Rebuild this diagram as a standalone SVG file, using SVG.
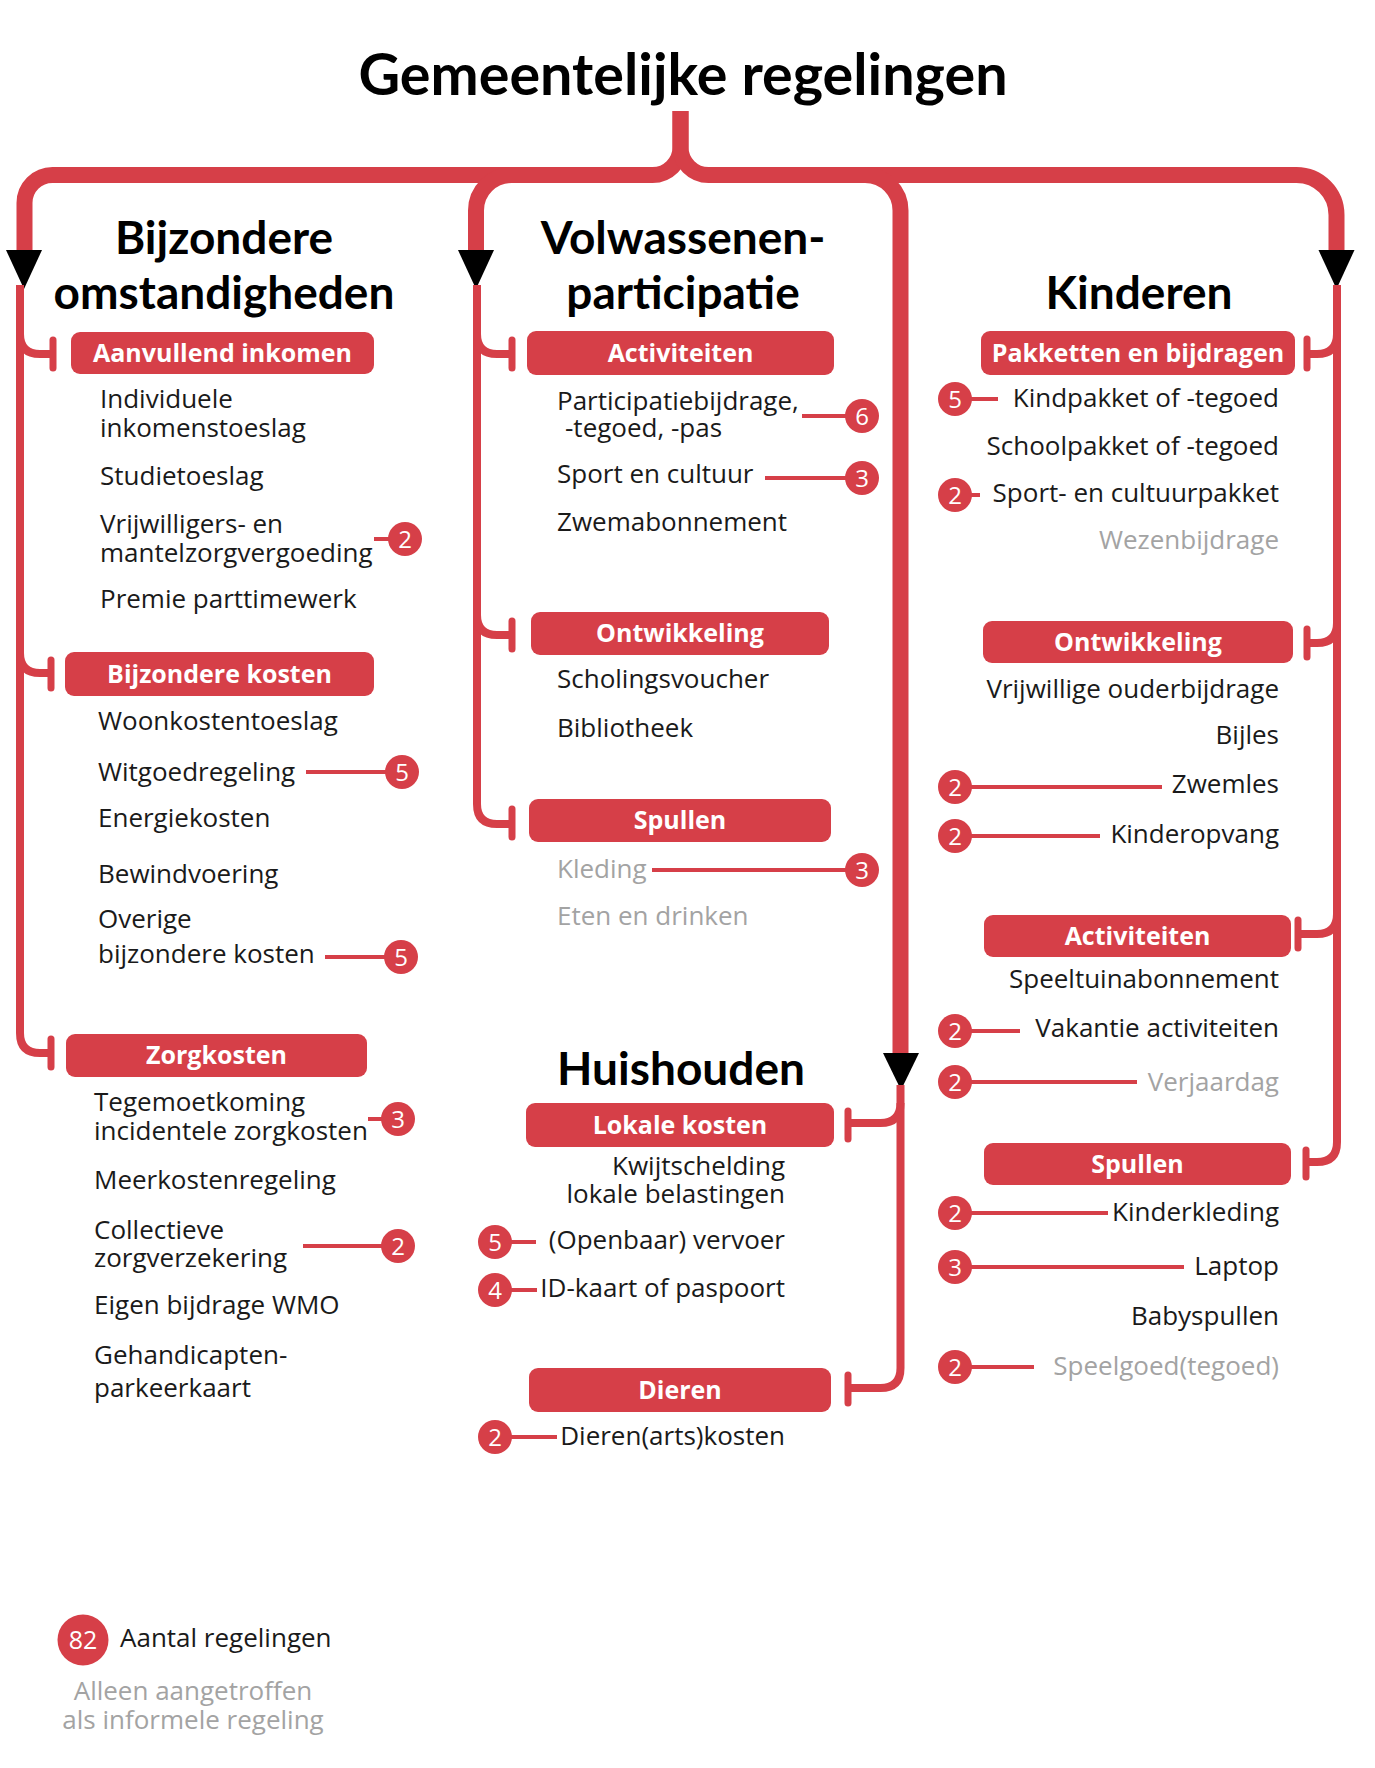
<svg xmlns="http://www.w3.org/2000/svg" width="1375" height="1768" viewBox="0 0 1375 1768">
<style>
.ln{stroke:#d63f48;fill:none;stroke-width:8}
.thk{stroke-width:16}
.tk{stroke:#d63f48;stroke-width:7;stroke-linecap:round}
.bl{stroke:#d63f48;stroke-width:4}
.box{fill:#d63f48}
.arr{fill:#000}
.t{font-family:"Open Sans",sans-serif;font-size:26px;fill:#1a1a1a}
.e{text-anchor:end}
.m{text-anchor:middle}
.g{fill:#a3a3a3}
.bx{font-family:"Open Sans",sans-serif;font-size:25px;font-weight:700;fill:#fff;text-anchor:middle}
.h{font-family:Lato,sans-serif;font-weight:700;font-size:46px;fill:#000;text-anchor:middle}
.bd{fill:#d63f48}
.n{font-family:"Open Sans",sans-serif;font-size:24px;fill:#fff;text-anchor:middle}
</style>
<rect width="1375" height="1768" fill="#fff"/>

<g id="connectors">
  <path class="ln thk" d="M680.5,111 V147 A28,28 0 0 1 652.5,175 H52.5 A28,28 0 0 0 24.5,203 V252"/>
  <path class="ln thk" d="M680.5,111 V147 A28,28 0 0 0 708.5,175 H1296.5 A40,40 0 0 1 1336.5,215 V252"/>
  <path class="ln thk" d="M560,175 H511.5 A35.5,35.5 0 0 0 476,210.5 V252"/>
  <path class="ln thk" d="M800,175 H865 A35.5,35.5 0 0 1 900.5,210.5 V1055"/>
  <polygon class="arr" points="6,250 42,250 24,289"/>
  <polygon class="arr" points="458,250 494,250 476,289"/>
  <polygon class="arr" points="1318.5,250 1354.5,250 1336.5,289"/>
  <polygon class="arr" points="883,1053 919,1053 901,1090"/>
  <!-- left column -->
  <path class="ln" d="M20,285 V1033 Q20,1053 40,1053 H51"/>
  <path class="ln" d="M20,334 Q20,354 40,354 H53"/>
  <path class="ln" d="M20,653 Q20,673 40,673 H51"/>
  <line class="tk" x1="53" y1="340" x2="53" y2="368"/>
  <line class="tk" x1="51" y1="660" x2="51" y2="688"/>
  <line class="tk" x1="51" y1="1039" x2="51" y2="1067"/>
  <!-- middle-left column -->
  <path class="ln" d="M477,285 V804 Q477,824 497,824 H512"/>
  <path class="ln" d="M477,334 Q477,354 497,354 H512"/>
  <path class="ln" d="M477,615 Q477,635 497,635 H512"/>
  <line class="tk" x1="512" y1="340" x2="512" y2="368"/>
  <line class="tk" x1="512" y1="621" x2="512" y2="649"/>
  <line class="tk" x1="512" y1="809" x2="512" y2="837"/>
  <!-- middle-right (Huishouden) -->
  <path class="ln" d="M900.5,1085 V1368 Q900.5,1388 880.5,1388 H848"/>
  <path class="ln" d="M900.5,1103 Q900.5,1123 880.5,1123 H848"/>
  <line class="tk" x1="848" y1="1111" x2="848" y2="1139"/>
  <line class="tk" x1="848" y1="1375" x2="848" y2="1403"/>
  <!-- right column -->
  <path class="ln" d="M1337,285 V1142 Q1337,1162 1317,1162 H1306"/>
  <path class="ln" d="M1337,334 Q1337,354 1317,354 H1307"/>
  <path class="ln" d="M1337,623 Q1337,643 1317,643 H1307"/>
  <path class="ln" d="M1337,914 Q1337,934 1317,934 H1298"/>
  <line class="tk" x1="1307" y1="339" x2="1307" y2="368"/>
  <line class="tk" x1="1307" y1="629" x2="1307" y2="657"/>
  <line class="tk" x1="1298" y1="920" x2="1298" y2="948"/>
  <line class="tk" x1="1306" y1="1150" x2="1306" y2="1177"/>
  <!-- badge leader lines -->
  <line class="bl" x1="374" y1="539" x2="392" y2="539"/>
  <line class="bl" x1="306" y1="772" x2="388" y2="772"/>
  <line class="bl" x1="325" y1="957" x2="388" y2="957"/>
  <line class="bl" x1="368" y1="1119" x2="385" y2="1119"/>
  <line class="bl" x1="303" y1="1246" x2="385" y2="1246"/>
  <line class="bl" x1="802" y1="416" x2="848" y2="416"/>
  <line class="bl" x1="765" y1="478" x2="848" y2="478"/>
  <line class="bl" x1="652" y1="870" x2="848" y2="870"/>
  <line class="bl" x1="508" y1="1242" x2="536" y2="1242"/>
  <line class="bl" x1="508" y1="1290" x2="537" y2="1290"/>
  <line class="bl" x1="508" y1="1437" x2="557" y2="1437"/>
  <line class="bl" x1="968" y1="399" x2="998" y2="399"/>
  <line class="bl" x1="968" y1="495" x2="980" y2="495"/>
  <line class="bl" x1="968" y1="787" x2="1162" y2="787"/>
  <line class="bl" x1="968" y1="836" x2="1100" y2="836"/>
  <line class="bl" x1="968" y1="1031" x2="1020" y2="1031"/>
  <line class="bl" x1="968" y1="1082" x2="1137" y2="1082"/>
  <line class="bl" x1="968" y1="1213" x2="1108" y2="1213"/>
  <line class="bl" x1="968" y1="1267" x2="1184" y2="1267"/>
  <line class="bl" x1="968" y1="1367" x2="1034" y2="1367"/>
</g>

<g id="title"><text x="683" y="95" style="font-family:Lato,sans-serif;font-weight:700;font-size:57.5px;fill:#000" text-anchor="middle">Gemeentelijke regelingen</text></g>

<g id="h-bijzondere"><text class="h" x="224" y="254">Bijzondere<tspan x="224" dy="55">omstandigheden</tspan></text></g>
<g id="h-volwassenen"><text class="h" x="683" y="254">Volwassenen-<tspan x="683" dy="55">participatie</tspan></text></g>
<g id="h-kinderen"><text class="h" x="1139" y="309">Kinderen</text></g>
<g id="h-huishouden"><text class="h" x="681" y="1085">Huishouden</text></g>

<g id="n-aanvullend"><rect class="box" x="71" y="332" width="303" height="42" rx="9"/><text class="bx" x="222.5" y="361.5">Aanvullend inkomen</text></g>
<g id="n-bijzkosten"><rect class="box" x="65" y="652" width="309" height="44" rx="9"/><text class="bx" x="219.5" y="682.5">Bijzondere kosten</text></g>
<g id="n-zorgkosten"><rect class="box" x="66" y="1034" width="301" height="43" rx="9"/><text class="bx" x="216.5" y="1064">Zorgkosten</text></g>
<g id="n-act-m"><rect class="box" x="527" y="331" width="307" height="44" rx="9"/><text class="bx" x="680.5" y="361.5">Activiteiten</text></g>
<g id="n-ontw-m"><rect class="box" x="531" y="612" width="298" height="43" rx="9"/><text class="bx" x="680" y="642">Ontwikkeling</text></g>
<g id="n-spul-m"><rect class="box" x="529" y="799" width="302" height="43" rx="9"/><text class="bx" x="680" y="829">Spullen</text></g>
<g id="n-lokaal"><rect class="box" x="526" y="1103" width="308" height="44" rx="9"/><text class="bx" x="680" y="1133.5">Lokale kosten</text></g>
<g id="n-dieren"><rect class="box" x="529" y="1368" width="302" height="44" rx="9"/><text class="bx" x="680" y="1398.5">Dieren</text></g>
<g id="n-pakket"><rect class="box" x="981" y="331" width="314" height="44" rx="9"/><text class="bx" x="1138" y="361.5">Pakketten en bijdragen</text></g>
<g id="n-ontw-r"><rect class="box" x="983" y="621" width="310" height="42" rx="9"/><text class="bx" x="1138" y="650.5">Ontwikkeling</text></g>
<g id="n-act-r"><rect class="box" x="984" y="915" width="307" height="42" rx="9"/><text class="bx" x="1137.5" y="944.5">Activiteiten</text></g>
<g id="n-spul-r"><rect class="box" x="984" y="1143" width="307" height="42" rx="9"/><text class="bx" x="1137.5" y="1172.5">Spullen</text></g>

<g id="items-left">
  <text class="t" x="100" y="408">Individuele<tspan x="100" dy="29">inkomenstoeslag</tspan></text>
  <text class="t" x="100" y="485">Studietoeslag</text>
  <text class="t" x="100" y="533">Vrijwilligers- en<tspan x="100" dy="29">mantelzorgvergoeding</tspan></text>
  <text class="t" x="100" y="608">Premie parttimewerk</text>
  <text class="t" x="98" y="730">Woonkostentoeslag</text>
  <text class="t" x="98" y="781">Witgoedregeling</text>
  <text class="t" x="98" y="827">Energiekosten</text>
  <text class="t" x="98" y="883">Bewindvoering</text>
  <text class="t" x="98" y="928">Overige<tspan x="98" dy="35">bijzondere kosten</tspan></text>
  <text class="t" x="94" y="1111">Tegemoetkoming<tspan x="94" dy="29">incidentele zorgkosten</tspan></text>
  <text class="t" x="94" y="1189">Meerkostenregeling</text>
  <text class="t" x="94" y="1239">Collectieve<tspan x="94" dy="28">zorgverzekering</tspan></text>
  <text class="t" x="94" y="1314">Eigen bijdrage WMO</text>
  <text class="t" x="94" y="1364">Gehandicapten-<tspan x="94" dy="33">parkeerkaart</tspan></text>
</g>
<g id="items-middle">
  <text class="t" x="557" y="410">Participatiebijdrage,<tspan x="565" dy="27">-tegoed, -pas</tspan></text>
  <text class="t" x="557" y="483">Sport en cultuur</text>
  <text class="t" x="557" y="531">Zwemabonnement</text>
  <text class="t" x="557" y="688">Scholingsvoucher</text>
  <text class="t" x="557" y="737">Bibliotheek</text>
  <text class="t g" x="557" y="878">Kleding</text>
  <text class="t g" x="557" y="925">Eten en drinken</text>
  <text class="t e" x="785" y="1175">Kwijtschelding<tspan x="785" dy="28">lokale belastingen</tspan></text>
  <text class="t e" x="785" y="1249">(Openbaar) vervoer</text>
  <text class="t e" x="785" y="1297">ID-kaart of paspoort</text>
  <text class="t e" x="785" y="1445">Dieren(arts)kosten</text>
</g>
<g id="items-right">
  <text class="t e" x="1279" y="407">Kindpakket of -tegoed</text>
  <text class="t e" x="1279" y="455">Schoolpakket of -tegoed</text>
  <text class="t e" x="1279" y="502">Sport- en cultuurpakket</text>
  <text class="t e g" x="1279" y="549">Wezenbijdrage</text>
  <text class="t e" x="1279" y="698">Vrijwillige ouderbijdrage</text>
  <text class="t e" x="1279" y="744">Bijles</text>
  <text class="t e" x="1279" y="793">Zwemles</text>
  <text class="t e" x="1279" y="843">Kinderopvang</text>
  <text class="t e" x="1279" y="988">Speeltuinabonnement</text>
  <text class="t e" x="1279" y="1037">Vakantie activiteiten</text>
  <text class="t e g" x="1279" y="1091">Verjaardag</text>
  <text class="t e" x="1279" y="1221">Kinderkleding</text>
  <text class="t e" x="1279" y="1275">Laptop</text>
  <text class="t e" x="1279" y="1325">Babyspullen</text>
  <text class="t e g" x="1279" y="1375">Speelgoed(tegoed)</text>
</g>

<g id="badges">
  <circle class="bd" cx="405" cy="539" r="17"/><text class="n" x="405" y="547.5">2</text>
  <circle class="bd" cx="402" cy="772" r="17"/><text class="n" x="402" y="780.5">5</text>
  <circle class="bd" cx="401" cy="957" r="17"/><text class="n" x="401" y="965.5">5</text>
  <circle class="bd" cx="398" cy="1119" r="17"/><text class="n" x="398" y="1127.5">3</text>
  <circle class="bd" cx="398" cy="1246" r="17"/><text class="n" x="398" y="1254.5">2</text>
  <circle class="bd" cx="862" cy="416" r="17"/><text class="n" x="862" y="424.5">6</text>
  <circle class="bd" cx="862" cy="478" r="17"/><text class="n" x="862" y="486.5">3</text>
  <circle class="bd" cx="862" cy="870" r="17"/><text class="n" x="862" y="878.5">3</text>
  <circle class="bd" cx="495" cy="1242" r="17"/><text class="n" x="495" y="1250.5">5</text>
  <circle class="bd" cx="495" cy="1290" r="17"/><text class="n" x="495" y="1298.5">4</text>
  <circle class="bd" cx="495" cy="1437" r="17"/><text class="n" x="495" y="1445.5">2</text>
  <circle class="bd" cx="955" cy="399" r="17"/><text class="n" x="955" y="407.5">5</text>
  <circle class="bd" cx="955" cy="495" r="17"/><text class="n" x="955" y="503.5">2</text>
  <circle class="bd" cx="955" cy="787" r="17"/><text class="n" x="955" y="795.5">2</text>
  <circle class="bd" cx="955" cy="836" r="17"/><text class="n" x="955" y="844.5">2</text>
  <circle class="bd" cx="955" cy="1031" r="17"/><text class="n" x="955" y="1039.5">2</text>
  <circle class="bd" cx="955" cy="1082" r="17"/><text class="n" x="955" y="1090.5">2</text>
  <circle class="bd" cx="955" cy="1213" r="17"/><text class="n" x="955" y="1221.5">2</text>
  <circle class="bd" cx="955" cy="1267" r="17"/><text class="n" x="955" y="1275.5">3</text>
  <circle class="bd" cx="955" cy="1367" r="17"/><text class="n" x="955" y="1375.5">2</text>
</g>

<g id="legend">
  <circle class="bd" cx="83" cy="1640" r="25.5"/><text class="n" x="83" y="1649" style="font-size:25px">82</text>
  <text class="t" x="120" y="1647">Aantal regelingen</text>
  <text class="t g m" x="193" y="1700">Alleen aangetroffen<tspan x="193" dy="29">als informele regeling</tspan></text>
</g>
</svg>
